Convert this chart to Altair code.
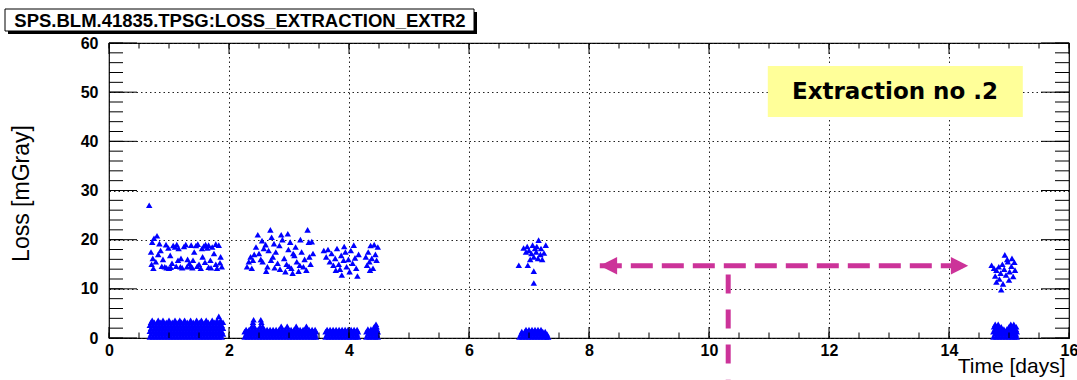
import altair as alt
import pandas as pd

# ---------------- data ----------------
# upper loss clusters: (time [days], loss [mGray])
upper_1 = [(0.67, 27.0), (0.75, 20.3), (0.80, 20.8), (0.72, 19.5), (0.84, 19.2),
           (0.70, 17.5), (0.73, 16.2), (0.71, 15.0), (0.74, 14.2), (0.78, 15.5),
           (0.82, 17.0), (0.86, 17.8), (0.90, 16.0), (0.93, 14.5), (0.96, 14.3),
           (1.00, 14.2), (1.03, 14.4), (1.05, 15.2), (1.07, 18.8), (1.10, 18.5),
           (1.13, 19.0), (1.16, 18.2), (1.19, 14.5), (1.22, 14.3), (1.25, 18.6),
           (1.28, 19.0), (1.31, 16.0), (1.34, 15.2), (1.36, 14.6), (1.39, 14.3),
           (1.42, 17.5), (1.45, 18.8), (1.48, 19.1), (1.50, 15.0), (1.53, 14.2),
           (1.56, 16.5), (1.58, 18.7), (1.61, 19.0), (1.64, 18.3), (1.66, 14.4),
           (1.69, 15.8), (1.72, 18.5), (1.75, 17.2), (1.78, 15.0), (1.80, 14.2),
           (1.83, 18.9), (1.86, 16.5), (1.88, 14.5), (0.95, 19.0), (1.02, 16.8),
           (1.20, 16.2), (1.40, 15.8), (1.60, 15.4), (1.78, 19.1), (0.88, 14.6),
           (1.12, 14.6), (1.30, 14.5), (1.47, 14.6), (1.70, 14.3), (1.85, 15.3),
           (1.15, 15.8), (1.55, 18.2), (1.66, 18.9), (0.99, 18.3), (1.37, 18.9)]
upper_2 = [(2.30, 14.5), (2.33, 15.5), (2.36, 16.5), (2.38, 14.2), (2.42, 17.0),
           (2.45, 18.5), (2.48, 21.0), (2.50, 17.2), (2.53, 16.0), (2.56, 15.5),
           (2.58, 18.2), (2.61, 19.0), (2.64, 14.5), (2.66, 17.8), (2.69, 22.0),
           (2.71, 20.5), (2.73, 16.5), (2.76, 14.3), (2.78, 17.5), (2.81, 15.2),
           (2.84, 18.8), (2.87, 21.0), (2.89, 20.0), (2.92, 16.2), (2.94, 13.5),
           (2.96, 15.0), (2.99, 18.0), (3.02, 19.5), (3.04, 14.2), (3.06, 13.2),
           (3.09, 16.8), (3.11, 18.5), (3.13, 15.5), (3.16, 13.6), (3.19, 20.0),
           (3.21, 17.5), (3.24, 14.5), (3.26, 16.0), (3.29, 13.8), (3.31, 22.0),
           (3.33, 19.5), (3.36, 15.0), (3.38, 19.6), (3.40, 17.2), (2.55, 19.8),
           (2.62, 13.6), (2.75, 19.2), (2.85, 14.0), (2.98, 21.2), (3.07, 17.2),
           (3.18, 14.8), (2.40, 15.8), (2.70, 15.8), (3.00, 14.6), (3.34, 16.5)]
upper_3 = [(3.58, 17.8), (3.62, 16.5), (3.65, 18.0), (3.68, 15.5), (3.71, 17.2),
           (3.74, 14.8), (3.77, 16.2), (3.80, 18.2), (3.83, 15.0), (3.85, 14.0),
           (3.87, 16.8), (3.88, 12.8), (3.91, 15.8), (3.94, 17.5), (3.96, 14.5),
           (3.99, 16.0), (4.01, 13.5), (4.03, 17.8), (4.06, 15.2), (4.08, 18.9),
           (4.10, 16.3), (4.12, 14.2), (4.14, 12.6), (4.16, 17.0), (3.92, 18.6),
           (3.78, 13.8)]
upper_4 = [(4.28, 16.5), (4.30, 14.8), (4.32, 17.5), (4.34, 15.5), (4.36, 18.8),
           (4.38, 16.2), (4.40, 14.2), (4.42, 19.0), (4.44, 17.0), (4.46, 15.8),
           (4.48, 18.5), (4.35, 13.8)]
upper_5 = [(7.16, 19.9), (7.28, 18.9), (6.91, 18.3), (7.06, 18.9), (6.97, 18.6),
           (6.83, 14.8), (6.98, 14.8), (7.08, 13.6), (7.08, 11.2), (7.00, 17.8),
           (7.04, 17.2), (7.08, 16.5), (7.12, 17.5), (7.15, 16.2), (7.19, 17.0),
           (7.22, 16.0), (7.10, 18.2), (7.02, 16.0), (7.13, 18.6), (7.20, 18.2),
           (6.95, 17.5), (7.25, 17.3)]
upper_6 = [(14.93, 16.9), (15.09, 15.4), (14.71, 14.8), (14.75, 14.2), (14.79, 13.8),
           (14.83, 14.5), (14.86, 13.2), (14.89, 15.0), (14.92, 14.0), (14.95, 12.8),
           (14.98, 15.5), (15.01, 13.5), (15.04, 14.6), (15.07, 12.5), (14.87, 9.8),
           (14.79, 11.4), (14.84, 12.0), (15.00, 11.8), (14.97, 16.0), (15.05, 16.2),
           (14.90, 11.0), (14.77, 12.6), (15.10, 13.8)]

# lower loss bands: time columns read per band, and (loss, columns) rows
b1_a = [0.68, 0.73, 0.78, 0.83, 0.88, 0.93, 0.98, 1.03, 1.08, 1.13, 1.18, 1.23, 1.28,
        1.33, 1.38, 1.43, 1.48, 1.53, 1.58, 1.63, 1.68, 1.73, 1.78, 1.83, 1.88]
b1_b = [0.70, 0.755, 0.805, 0.855, 0.905, 0.955, 1.005, 1.055, 1.105, 1.155, 1.205, 1.255, 1.305,
        1.355, 1.405, 1.455, 1.505, 1.555, 1.605, 1.655, 1.705, 1.755, 1.805, 1.855, 1.90]
b1_top = [0.72, 0.82, 0.90, 1.00, 1.10, 1.18, 1.26, 1.36, 1.46, 1.54, 1.62, 1.72, 1.80, 1.86]
b2_a = [2.26, 2.31, 2.36, 2.41, 2.46, 2.51, 2.56, 2.61, 2.66, 2.71, 2.76, 2.81, 2.86,
        2.91, 2.96, 3.01, 3.06, 3.11, 3.16, 3.21, 3.26, 3.31, 3.36, 3.41, 3.45]
b2_b = [2.285, 2.335, 2.385, 2.435, 2.485, 2.535, 2.585, 2.635, 2.685, 2.735, 2.785, 2.835, 2.885,
        2.935, 2.985, 3.035, 3.085, 3.135, 3.185, 3.235, 3.285, 3.335, 3.385, 3.435]
b2_bumps = [2.38, 2.42, 2.52, 2.56, 2.87, 2.97, 3.12, 3.29]
b3_a = [3.61, 3.66, 3.71, 3.76, 3.81, 3.86, 3.91, 3.96, 4.01, 4.06, 4.11, 4.15]
b3_b = [3.635, 3.685, 3.735, 3.785, 3.835, 3.885, 3.935, 3.985, 4.035, 4.085, 4.135]
b4_a = [4.29, 4.34, 4.39, 4.44, 4.48]
b4_b = [4.315, 4.365, 4.415, 4.465]
b5_a = [6.84, 6.89, 6.94, 6.99, 7.04, 7.09, 7.14, 7.19, 7.24, 7.29, 7.32]
b5_b = [6.865, 6.915, 6.965, 7.015, 7.065, 7.115, 7.165, 7.215, 7.265, 7.30]
b5_c = [6.88, 6.93, 6.98, 7.03, 7.08, 7.13, 7.18, 7.23, 7.27]
b5_d = [6.95, 7.00, 7.05, 7.10, 7.15, 7.20]
b6_a = [14.74, 14.79, 14.84, 14.89, 14.94, 14.99, 15.04, 15.09, 15.13]
b6_b = [14.765, 14.815, 14.865, 14.915, 14.965, 15.015, 15.065, 15.115]
b6_c = [14.75, 14.79, 14.83, 14.87, 15.00, 15.04, 15.08, 15.12]
b6_d = [14.77, 14.82, 15.03, 15.08]

lower_rows = [
    (0.2, b1_a), (0.8, b1_b), (1.4, b1_a), (2.0, b1_b), (2.6, b1_a), (3.2, b1_b),
    (3.6, b1_top), (4.4, [1.83]),
    (0.2, b2_a), (0.8, b2_b), (1.3, b2_a), (1.7, b2_b), (2.4, b2_bumps),
    (3.2, [2.40, 2.54]), (3.7, [2.41, 2.53]),
    (0.2, b3_a), (0.8, b3_b), (1.3, b3_a), (1.7, b3_b),
    (0.2, b4_a), (0.8, b4_b), (1.3, b4_a), (1.8, b4_b), (2.3, [4.42, 4.46]), (2.8, [4.45]),
    (0.2, b5_a), (0.8, b5_b), (1.3, b5_c), (1.7, b5_d),
    (0.2, b6_a), (0.8, b6_b), (1.3, b6_a), (1.8, b6_b), (2.3, b6_c), (2.8, b6_d),
]

# axis tick values
x_labels = [0, 2, 4, 6, 8, 10, 12, 14, 16]
x_minor = [0, 0.5, 1, 1.5, 2, 2.5, 3, 3.5, 4, 4.5, 5, 5.5, 6, 6.5, 7, 7.5, 8,
           8.5, 9, 9.5, 10, 10.5, 11, 11.5, 12, 12.5, 13, 13.5, 14, 14.5, 15, 15.5, 16]
y_labels = [0, 10, 20, 30, 40, 50, 60]
y_minor = [0, 2, 4, 6, 8, 10, 12, 14, 16, 18, 20, 22, 24, 26, 28, 30, 32, 34, 36,
           38, 40, 42, 44, 46, 48, 50, 52, 54, 56, 58, 60]

# annotations (data coordinates)
arrow_x = [8.18, 14.32]
arrow_y = 14.7
stem_x = 10.32
stem_y = [12.9, -8.5]
note_box = dict(x=10.98, x2=15.23, y=44.95, y2=55.3)
note_text = "Extraction no .2"
note_pos = (13.1, 50.1)
title_text = "SPS.BLM.41835.TPSG:LOSS_EXTRACTION_EXTR2"

# ---------------- build ----------------
W, H = 960, 295
MAG = "#CC3399"
FONT = "Liberation Sans"

pts = []
for cl in (upper_1, upper_2, upper_3, upper_4, upper_5, upper_6):
    pts += [{"x": a, "y": b} for a, b in cl]
for yv, xs_row in lower_rows:
    pts += [{"x": a, "y": yv} for a in xs_row]
pts = pd.DataFrame(pts)

xs = alt.Scale(domain=[0, 16], nice=False, zero=False)
ys = alt.Scale(domain=[0, 60], nice=False, zero=False)

x_axis = alt.Axis(values=x_labels, title="Time [days]", ticks=False, domain=False,
                  grid=True, gridDash=[1.5, 3], gridColor="#222", gridWidth=1,
                  labelFont=FONT, labelFontSize=16, labelFontWeight="bold", labelColor="black",
                  labelPadding=4, labelFlush=False, labelOverlap=False,
                  titleFont=FONT, titleFontSize=21, titleFontWeight="normal", titleColor="black",
                  titleX=956, titleY=34, titleAlign="right", titleBaseline="alphabetic")
y_axis = alt.Axis(values=y_labels, title="Loss [mGray]", ticks=False, domain=False,
                  grid=True, gridDash=[1.5, 3], gridColor="#222", gridWidth=1,
                  labelFont=FONT, labelFontSize=16, labelFontWeight="bold", labelColor="black",
                  labelPadding=11, labelFlush=False, labelOverlap=False,
                  titleFont=FONT, titleFontSize=23, titleFontWeight="normal", titleColor="black",
                  titleX=-88, titleY=150, titleAngle=270, titleAlign="center",
                  titleBaseline="middle")

X = lambda f="x": alt.X(f"{f}:Q", scale=xs, axis=x_axis)
Y = lambda f="y": alt.Y(f"{f}:Q", scale=ys, axis=y_axis)

points = alt.Chart(pts).mark_point(shape="triangle-up", filled=True, size=42,
                                   color="#0000FF", opacity=1, strokeWidth=0).encode(
    x=X(), y=Y())

def xticks(vals, length):
    d = pd.DataFrame({"x": vals})
    bottom = alt.Chart(d).mark_rule(color="black", strokeWidth=1).encode(
        x=X(), y=alt.value(H), y2=alt.value(H - length))
    top = alt.Chart(d).mark_rule(color="black", strokeWidth=1).encode(
        x=X(), y=alt.value(0), y2=alt.value(length))
    return [bottom, top]

def yticks(vals, length):
    d = pd.DataFrame({"y": vals})
    left = alt.Chart(d).mark_rule(color="black", strokeWidth=1).encode(
        y=Y(), x=alt.value(0), x2=alt.value(length))
    right = alt.Chart(d).mark_rule(color="black", strokeWidth=1).encode(
        y=Y(), x=alt.value(W), x2=alt.value(W - length))
    return [left, right]

ticks = xticks(x_minor, 5.5) + xticks(x_labels, 11) + yticks(y_minor, 14) + yticks(y_labels, 28)

# note box
note_rect = alt.Chart(pd.DataFrame([note_box])).mark_rect(color="#FFFF99").encode(
    x=X(), x2="x2:Q", y=Y(), y2="y2:Q")
note = alt.Chart(pd.DataFrame([{"x": note_pos[0], "y": note_pos[1], "t": note_text}])).mark_text(
    font="DejaVu Sans", fontSize=23, fontWeight="bold", color="black",
    align="center", baseline="middle").encode(x=X(), y=Y(), text="t:N")

# arrows
h_line = alt.Chart(pd.DataFrame([{"x": arrow_x[0], "x2": arrow_x[1], "y": arrow_y}])).mark_rule(
    color=MAG, strokeWidth=5, strokeDash=[22, 9]).encode(x=X(), x2="x2:Q", y=Y())
v_line = alt.Chart(pd.DataFrame([{"x": stem_x, "y": stem_y[0], "y2": stem_y[1]}])).mark_rule(
    color=MAG, strokeWidth=5, strokeDash=[19, 16]).encode(x=X(), y=Y(), y2="y2:Q")
head_l = alt.Chart(pd.DataFrame([{"x": arrow_x[0], "y": arrow_y}])).mark_point(
    shape="M0,0L2,-1L2,1Z", size=300, filled=True, color=MAG, opacity=1, strokeWidth=0).encode(
    x=X(), y=Y())
head_r = alt.Chart(pd.DataFrame([{"x": arrow_x[1], "y": arrow_y}])).mark_point(
    shape="M0,0L-2,-1L-2,1Z", size=300, filled=True, color=MAG, opacity=1, strokeWidth=0).encode(
    x=X(), y=Y())

# title box (pixel decoration above the frame)
one = pd.DataFrame([{"t": title_text}])
t_shadow = alt.Chart(one).mark_rect(color="black").encode(
    x=alt.value(-101), x2=alt.value(368), y=alt.value(-31), y2=alt.value(-9))
t_box = alt.Chart(one).mark_rect(fill="white", stroke="black", strokeWidth=1).encode(
    x=alt.value(-104), x2=alt.value(365), y=alt.value(-34), y2=alt.value(-12))
t_text = alt.Chart(one).mark_text(font=FONT, fontSize=18.5, fontWeight="bold", color="black",
                                  align="center", baseline="middle").encode(
    x=alt.value(131), y=alt.value(-22.5), text="t:N")

chart = alt.layer(points, *ticks, note_rect, note, h_line, v_line, head_l, head_r,
                  t_shadow, t_box, t_text).properties(
    width=W, height=H,
    autosize=alt.AutoSizeParams(type="none"),
    padding={"left": 109, "top": 43, "right": 8, "bottom": 42},
    background="white",
).configure_view(stroke="black", strokeWidth=1.2)

chart.save("out.html", embed_options={"renderer": "svg", "actions": False})
